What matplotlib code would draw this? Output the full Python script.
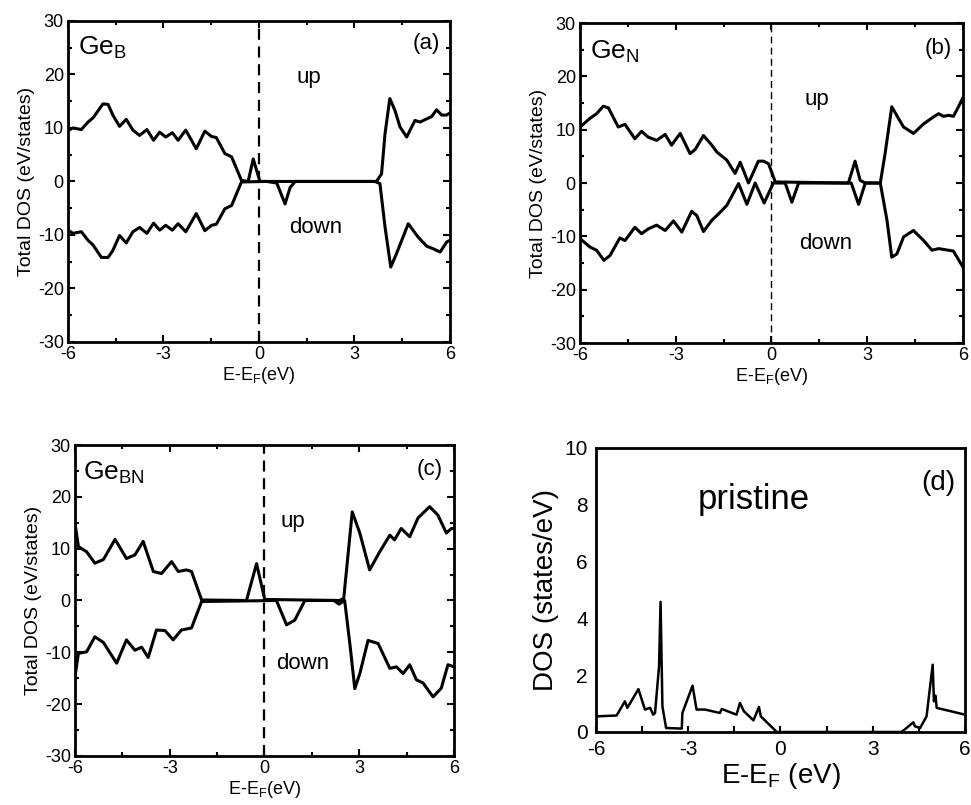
import numpy as np
from matplotlib import pyplot as plt
from matplotlib.ticker import MultipleLocator

plt.rcParams['font.family'] = ['Liberation Sans', 'DejaVu Sans']
plt.rcParams['mathtext.default'] = 'regular'
plt.rcParams['axes.unicode_minus'] = False

# (a) Ge_B, spin up / spin down total DOS
a_up_x = [-6.0, -5.84, -5.58, -5.37, -5.21, -4.90, -4.74, -4.59, -4.38, -4.17, -3.96, -3.75, -3.52, -3.31,
          -3.12, -2.93, -2.72, -2.54, -2.30, -1.97, -1.70, -1.49, -1.34, -1.07, -0.86, -0.55, -0.34, -0.18,
          0.03, 0.3, 3.69, 3.85, 3.96, 4.11, 4.27, 4.43, 4.64, 4.90, 5.06, 5.27, 5.42, 5.58, 5.74, 5.89, 6.0]
a_up_y = [9.5, 10.0, 9.7, 11.1, 11.9, 14.5, 14.4, 12.4, 10.3, 11.6, 9.6, 8.6, 9.7, 7.7,
          9.2, 8.3, 9.1, 7.7, 9.6, 6.1, 9.4, 8.4, 8.2, 5.2, 4.6, 0.2, 0.0, 4.2,
          0.0, 0.0, 0.0, 1.4, 8.9, 15.5, 13.3, 10.2, 8.3, 11.4, 11.1, 11.7, 12.1, 13.4, 12.4, 12.4, 12.8]
a_dn_x = [-6.0, -5.84, -5.58, -5.37, -5.21, -4.95, -4.74, -4.59, -4.38, -4.17, -3.96, -3.75, -3.52, -3.31,
          -3.12, -2.93, -2.72, -2.54, -2.30, -1.97, -1.70, -1.49, -1.34, -1.07, -0.86, -0.55, 0.24, 0.56,
          0.82, 0.98, 1.14, 3.64, 3.80, 3.96, 4.14, 4.32, 4.69, 5.0, 5.27, 5.48, 5.69, 5.90, 6.0]
a_dn_y = [-9.1, -9.7, -9.4, -11.0, -11.9, -14.2, -14.2, -12.9, -10.1, -11.5, -9.4, -8.6, -9.7, -7.8,
          -9.1, -8.2, -9.1, -7.9, -9.4, -6.0, -9.2, -8.2, -8.0, -5.1, -4.5, -0.1, 0.0, -0.3,
          -4.2, -1.1, 0.0, 0.0, -0.4, -8.5, -16.0, -13.5, -7.9, -10.4, -12.1, -12.6, -13.2, -11.3, -11.0]

# (b) Ge_N
b_up_x = [-6.0, -5.69, -5.48, -5.27, -5.11, -4.80, -4.59, -4.28, -4.07, -3.86, -3.60, -3.33, -3.13, -2.86,
          -2.55, -2.39, -2.13, -1.87, -1.71, -1.40, -1.14, -0.98, -0.72, -0.41, -0.25, -0.09, 0.12, 2.41,
          2.62, 2.78, 2.94, 3.41, 3.56, 3.77, 3.98, 4.14, 4.45, 4.77, 5.08, 5.24, 5.39, 5.55, 5.70, 5.86, 6.0]
b_up_y = [10.5, 12.1, 13.0, 14.4, 14.1, 10.5, 11.0, 8.3, 9.7, 8.6, 8.0, 9.1, 7.1, 9.3,
          5.5, 6.3, 8.9, 7.1, 5.8, 4.3, 1.8, 3.9, 0.0, 4.1, 4.1, 3.6, 0.2, 0.0,
          4.1, 0.5, 0.0, 0.0, 5.5, 14.3, 12.1, 10.5, 9.3, 11.1, 12.4, 13.0, 12.5, 12.7, 12.5, 14.3, 16.0]
b_dn_x = [-6.0, -5.69, -5.48, -5.25, -5.06, -4.75, -4.59, -4.28, -4.07, -3.86, -3.60, -3.33, -3.07, -2.81,
          -2.50, -2.34, -2.13, -1.87, -1.66, -1.40, -1.03, -0.77, -0.51, -0.23, 0.06, 0.43, 0.64, 0.85,
          2.50, 2.73, 2.94, 3.41, 3.62, 3.77, 3.93, 4.14, 4.45, 4.77, 5.03, 5.24, 5.44, 5.70, 6.0]
b_dn_y = [-10.4, -12.0, -12.6, -14.5, -13.6, -10.3, -10.8, -8.3, -9.5, -8.6, -7.9, -8.9, -7.1, -9.2,
          -5.3, -6.1, -9.1, -7.0, -5.8, -4.2, -0.1, -4.0, 0.0, -3.75, 0.0, 0.0, -3.6, 0.0,
          0.0, -4.0, 0.0, 0.0, -7.0, -13.9, -13.3, -10.1, -8.9, -10.8, -12.6, -12.3, -12.5, -12.75, -15.75]

# (c) Ge_BN
c_up_x = [-6.0, -5.89, -5.63, -5.37, -5.10, -4.73, -4.37, -4.10, -3.84, -3.52, -3.26, -2.94, -2.73, -2.47,
          -2.31, -1.99, -0.57, -0.25, 0.01, 2.38, 2.51, 2.78, 3.02, 3.33, 3.65, 3.97, 4.12, 4.33, 4.60,
          4.86, 5.23, 5.49, 5.76, 5.92, 6.0]
c_up_y = [14.9, 10.4, 9.4, 7.2, 7.9, 11.8, 8.1, 8.8, 11.4, 5.6, 5.2, 7.5, 5.6, 5.9,
          5.6, 0.1, 0.0, 7.1, 0.2, 0.0, 0.4, 17.1, 13.0, 5.9, 9.4, 12.6, 11.7, 13.9, 12.3,
          15.9, 18.1, 16.5, 13.0, 13.9, 13.9]
c_dn_x = [-6.0, -5.89, -5.63, -5.37, -5.10, -4.68, -4.37, -4.10, -3.89, -3.68, -3.42, -3.15, -2.89, -2.63,
          -2.31, -1.99, 0.38, 0.70, 0.96, 1.28, 2.20, 2.36, 2.54, 2.72, 2.86, 3.02, 3.28, 3.60, 3.97,
          4.18, 4.39, 4.60, 4.81, 5.02, 5.34, 5.60, 5.81, 6.0]
c_dn_y = [-14.7, -10.2, -9.9, -7.0, -8.1, -12.1, -7.6, -9.6, -9.0, -11.0, -5.7, -5.8, -7.6, -5.7,
          -5.3, -0.2, 0.0, -4.7, -3.8, 0.0, 0.0, -0.7, 0.0, -9.2, -17.0, -14.1, -7.7, -8.3, -13.1,
          -12.8, -14.1, -12.4, -15.3, -15.9, -18.6, -16.9, -12.4, -12.8]

# (d) pristine
d_x = [-6.0, -5.33, -5.06, -4.98, -4.62, -4.41, -4.24, -4.14, -4.08, -3.95, -3.90, -3.84, -3.72, -3.21,
       -3.19, -2.86, -2.73, -2.46, -1.97, -1.91, -1.43, -1.32, -1.19, -0.88, -0.70, -0.64, -0.12, 3.94,
       4.32, 4.37, 4.54, 4.75, 4.95, 4.99, 5.04, 5.08, 6.0]
d_y = [0.55, 0.58, 1.08, 0.85, 1.51, 0.79, 0.85, 0.61, 0.67, 2.31, 4.58, 0.9, 0.14, 0.12,
       0.67, 1.63, 0.79, 0.79, 0.67, 0.81, 0.61, 1.02, 0.73, 0.41, 0.88, 0.55, 0.0, 0.0,
       0.34, 0.2, 0.14, 0.55, 2.37, 1.08, 1.28, 0.85, 0.61]

panels = [
    ('(a)', 'Ge$_B$', a_up_x, a_up_y, a_dn_x, a_dn_y, [0.070, 0.5752, 0.3934, 0.3988],
     (-5.69, 23.6), (5.69, 25.8), (1.57, 19.5), (1.78, -8.7), 1.6),
    ('(b)', 'Ge$_N$', b_up_x, b_up_y, b_dn_x, b_dn_y, [0.5973, 0.5739, 0.3944, 0.3975],
     (-5.69, 23.3), (5.65, 25.2), (1.42, 15.6), (1.71, -11.4), 1.0),
    ('(c)', 'Ge$_{BN}$', c_up_x, c_up_y, c_dn_x, c_dn_y, [0.0772, 0.0609, 0.3903, 0.3863],
     (-5.74, 23.2), (5.65, 25.2), (0.91, 15.2), (1.2, -12.2), 1.6),
]

fig = plt.figure(figsize=(9.71, 8.05), dpi=100)

for tag, name, ux, uy, dx, dy, rect, name_xy, tag_xy, up_xy, dn_xy, dash_lw in panels:
    ax = fig.add_axes(rect)
    ax.plot(ux, uy, color='black', lw=2.2)
    ax.plot(dx, dy, color='black', lw=2.2)
    ax.axvline(0, color='black', ls='--', lw=dash_lw, dashes=(5, 3))
    ax.set_xlim(-6, 6)
    ax.set_ylim(-30, 30)
    ax.xaxis.set_major_locator(MultipleLocator(3))
    ax.xaxis.set_minor_locator(MultipleLocator(1.5))
    ax.yaxis.set_major_locator(MultipleLocator(10))
    ax.yaxis.set_minor_locator(MultipleLocator(5))
    ax.tick_params(which='both', direction='in', top=True, right=True, width=1.5, labelsize=13, pad=3)
    ax.tick_params(which='major', length=5)
    ax.tick_params(which='minor', length=3)
    for sp in ax.spines.values():
        sp.set_linewidth(2)
    ax.set_xlabel('E-E$_F$(eV)', fontsize=13, labelpad=1)
    ax.set_ylabel('Total DOS (eV/states)', fontsize=14, labelpad=2)
    ax.text(name_xy[0], name_xy[1], name, fontsize=19, ha='left', va='baseline')
    ax.text(tag_xy[0], tag_xy[1], tag, fontsize=16, ha='right', va='center')
    ax.text(up_xy[0], up_xy[1], 'up', fontsize=16, ha='center', va='center')
    ax.text(dn_xy[0], dn_xy[1], 'down', fontsize=16, ha='center', va='center')

ax = fig.add_axes([0.6138, 0.0907, 0.380, 0.3528])
ax.plot(d_x, d_y, color='black', lw=1.8)
ax.set_xlim(-6, 6)
ax.set_ylim(0, 10)
ax.xaxis.set_major_locator(MultipleLocator(3))
ax.xaxis.set_minor_locator(MultipleLocator(1.5))
ax.yaxis.set_major_locator(MultipleLocator(2))
ax.tick_params(axis='x', which='both', direction='in', length=4, width=1.5, labelsize=15, pad=6)
ax.tick_params(axis='y', which='both', direction='in', length=0, labelsize=15, pad=6)
for sp in ax.spines.values():
    sp.set_linewidth(2)
ax.set_xlabel('E-E$_F$ (eV)', fontsize=20, labelpad=1)
ax.set_ylabel('DOS (states/eV)', fontsize=20, labelpad=4)
ax.text(-0.86, 8.2, 'pristine', fontsize=25, ha='center', va='center')
ax.text(5.7, 8.75, '(d)', fontsize=20, ha='right', va='center')

fig.savefig('out.png', dpi=100)
